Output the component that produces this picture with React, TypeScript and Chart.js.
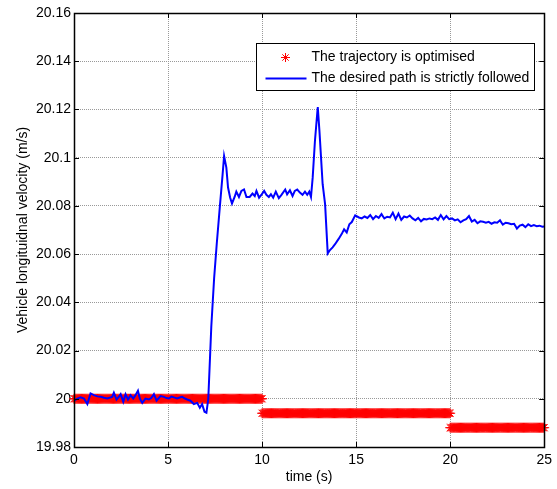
import { useEffect, useRef } from 'react';
import { Chart, registerables } from 'chart.js';

Chart.register(...registerables);

const FONT = 'Arial, "Liberation Sans", Helvetica, sans-serif';

// Axis ticks
const xTicks = [0, 5, 10, 15, 20, 25];
const yTicks = [19.98, 20.0, 20.02, 20.04, 20.06, 20.08, 20.1, 20.12, 20.14, 20.16];

// Optimised trajectory: piecewise-constant speed, sampled every 0.05 s
const optimisedSegmentStart = [0, 10, 20];
const optimisedSegmentEnd = [10, 20, 25];
const optimisedSpeed = [20.0, 19.994, 19.988];
const optimisedSampleStep = 0.05;

// Strict path following: measured longitudinal speed
const pathTime = [
  0, 0.18, 0.35, 0.53, 0.71, 0.88, 1.06, 1.24, 1.42, 1.6, 1.77, 2.03, 2.12, 2.26, 2.36, 2.48,
  2.62, 2.74, 2.87, 3.01, 3.15, 3.27, 3.4, 3.5, 3.63, 3.8, 3.98, 4.12, 4.25, 4.39, 4.6, 4.78,
  4.92, 5.04, 5.18, 5.31, 5.48, 5.62, 5.75, 5.9, 6.02, 6.19, 6.37, 6.55, 6.69, 6.81, 6.94, 7.04,
  7.14, 7.3, 7.45, 7.59, 7.75, 7.9, 7.98, 8.1, 8.19, 8.3, 8.4, 8.54, 8.63, 8.77, 8.9, 9.04,
  9.17, 9.34, 9.49, 9.61, 9.7, 9.84, 9.98, 10.11, 10.23, 10.36, 10.47, 10.59, 10.73, 10.89, 11.03, 11.23,
  11.33, 11.48, 11.62, 11.74, 11.87, 12.01, 12.15, 12.28, 12.4, 12.51, 12.6, 12.69, 12.81, 12.96, 13.05, 13.22,
  13.35, 13.49, 13.61, 13.75, 13.88, 14.06, 14.23, 14.36, 14.5, 14.64, 14.77, 14.95,
  15.15, 15.3, 15.45, 15.6, 15.75, 15.9, 16.05, 16.2, 16.35, 16.5, 16.65, 16.8, 16.95, 17.1, 17.25, 17.4,
  17.55, 17.7, 17.85, 18.0, 18.15, 18.3, 18.45, 18.6, 18.75, 18.9, 19.05, 19.2, 19.35, 19.5, 19.65, 19.8,
  19.95, 20.1, 20.25, 20.4, 20.55, 20.7, 20.85, 21.0, 21.15, 21.3, 21.45, 21.6, 21.75, 21.9, 22.05, 22.2,
  22.35, 22.5, 22.65, 22.8, 22.95, 23.1, 23.25, 23.4, 23.55, 23.7, 23.85, 24.0, 24.15, 24.3, 24.45, 24.6,
  24.75, 24.9, 25.0,
];
const pathSpeed = [
  19.9992, 20.0001, 20.0006, 20.0001, 19.9978, 20.0022, 20.0015, 20.001, 20.0008, 20.0004, 20.0001, 20.0008, 20.0025, 19.9997, 20.0006, 20.0019,
  19.9988, 20.0019, 19.9997, 20.0015, 20.0001, 20.0015, 20.0033, 20.0001, 19.9983, 20.0001, 19.9997, 20.0004, 20.0019, 19.9992, 20.0011, 20.0008,
  20.0003, 20.0001, 20.0009, 20.0006, 20.0001, 20.0005, 20.0008, 20.0001, 19.9997, 19.9992, 19.9978, 19.9983, 19.9963, 19.9978, 19.9946, 19.9942,
  20.0, 20.03, 20.05, 20.0643, 20.0793, 20.093, 20.1007, 20.0959, 20.0876, 20.0835, 20.081, 20.0837, 20.0859, 20.0837, 20.0862, 20.0868,
  20.0837, 20.0837, 20.0851, 20.0841, 20.0862, 20.0834, 20.0848, 20.0862, 20.0846, 20.0837, 20.0848, 20.0834, 20.0859, 20.0832, 20.0846, 20.0868,
  20.0848, 20.0865, 20.0841, 20.0862, 20.0868, 20.0855, 20.0846, 20.0859, 20.0846, 20.0859, 20.0837, 20.0917, 20.1069, 20.121, 20.111, 20.089,
  20.0807, 20.0603, 20.0617, 20.0628, 20.0641, 20.0662, 20.0683, 20.0703, 20.069, 20.0724, 20.0733, 20.0761,
  20.0752, 20.0748, 20.0756, 20.075, 20.0762, 20.0745, 20.0758, 20.075, 20.0766, 20.0748, 20.0755, 20.0752, 20.0772, 20.0745, 20.0768, 20.0742,
  20.0756, 20.0752, 20.076, 20.0748, 20.074, 20.075, 20.0736, 20.0746, 20.0744, 20.0748, 20.0745, 20.0752, 20.0742, 20.0762, 20.0744, 20.0758,
  20.0745, 20.0748, 20.074, 20.0744, 20.0732, 20.074, 20.0745, 20.0758, 20.0735, 20.0742, 20.0728, 20.0736, 20.0734, 20.073, 20.0734, 20.0726,
  20.0732, 20.073, 20.074, 20.0722, 20.073, 20.0728, 20.0724, 20.0726, 20.0706, 20.0718, 20.0722, 20.0712, 20.0724, 20.0716, 20.072, 20.0716,
  20.0718, 20.0714, 20.0715,
];

const optimisedLabel = 'The trajectory is optimised';
const pathLabel = 'The desired path is strictly followed';
const xTitle = 'time (s)';
const yTitle = 'Vehicle longituidnal velocity (m/s)';

function optimisedPoints() {
  const pts: { x: number; y: number }[] = [];
  optimisedSpeed.forEach((v, i) => {
    const start = optimisedSegmentStart[i];
    const n = Math.round((optimisedSegmentEnd[i] - start) / optimisedSampleStep);
    for (let k = 0; k <= n; k++) pts.push({ x: +(start + k * optimisedSampleStep).toFixed(3), y: v });
  });
  return pts;
}

function drawStar(ctx: CanvasRenderingContext2D, x: number, y: number, r: number) {
  const d = r * Math.SQRT1_2;
  ctx.beginPath();
  ctx.moveTo(x - r, y); ctx.lineTo(x + r, y);
  ctx.moveTo(x, y - r); ctx.lineTo(x, y + r);
  ctx.moveTo(x - d, y - d); ctx.lineTo(x + d, y + d);
  ctx.moveTo(x - d, y + d); ctx.lineTo(x + d, y - d);
  ctx.stroke();
}

// Box, inward tick marks and the legend inside the axes
const axesDecor = {
  id: 'axesDecor',
  afterDraw(chart: any) {
    const { ctx, chartArea: a, scales } = chart;
    const tick = 5;
    ctx.save();
    ctx.strokeStyle = '#000';
    ctx.lineWidth = 1;
    ctx.beginPath();
    for (const t of xTicks) {
      const px = Math.round(scales.x.getPixelForValue(t)) + 0.5;
      ctx.moveTo(px, a.bottom); ctx.lineTo(px, a.bottom - tick);
      ctx.moveTo(px, a.top); ctx.lineTo(px, a.top + tick);
    }
    for (const t of yTicks) {
      const py = Math.round(scales.y.getPixelForValue(t)) + 0.5;
      ctx.moveTo(a.left, py); ctx.lineTo(a.left + tick, py);
      ctx.moveTo(a.right, py); ctx.lineTo(a.right - tick, py);
    }
    ctx.stroke();
    ctx.lineWidth = 1.5;
    ctx.strokeRect(Math.round(a.left) + 0.5, Math.round(a.top) + 0.5, Math.round(a.right - a.left), Math.round(a.bottom - a.top));

    // legend
    const w = 278, h = 47;
    const lx = Math.round(a.right - 10 - w) + 0.5;
    const ly = Math.round(a.top + 30) + 0.5;
    ctx.fillStyle = '#fff';
    ctx.fillRect(lx, ly, w, h);
    ctx.lineWidth = 1;
    ctx.strokeStyle = '#000';
    ctx.strokeRect(lx, ly, w, h);
    const row1 = ly + 14, row2 = ly + 35;
    ctx.strokeStyle = '#ff0000';
    ctx.lineWidth = 1;
    drawStar(ctx, lx + 29, row1, 4.5);
    ctx.strokeStyle = '#0000ff';
    ctx.lineWidth = 2;
    ctx.beginPath();
    ctx.moveTo(lx + 9, row2); ctx.lineTo(lx + 50, row2);
    ctx.stroke();
    ctx.fillStyle = '#000';
    ctx.font = `14px ${FONT}`;
    ctx.textBaseline = 'middle';
    ctx.textAlign = 'left';
    ctx.fillText(optimisedLabel, lx + 55, row1);
    ctx.fillText(pathLabel, lx + 55, row2);
    ctx.restore();
  },
};

export default function App() {
  const canvasRef = useRef<HTMLCanvasElement | null>(null);

  useEffect(() => {
    const canvas = canvasRef.current;
    if (!canvas) return;
    const chart = new Chart(canvas, {
      type: 'line',
      data: {
        datasets: [
          {
            label: optimisedLabel,
            data: optimisedPoints(),
            showLine: false,
            pointStyle: 'star',
            pointRadius: 5,
            pointBorderWidth: 1,
            borderColor: '#ff0000',
            backgroundColor: '#ff0000',
            clip: 8,
            order: 1,
          },
          {
            label: pathLabel,
            data: pathTime.map((t, i) => ({ x: t, y: pathSpeed[i] })),
            borderColor: '#0000ff',
            backgroundColor: '#0000ff',
            borderWidth: 2,
            pointRadius: 0,
            tension: 0,
            order: 0,
          },
        ],
      },
      options: {
        responsive: false,
        animation: false,
        devicePixelRatio: 1,
        layout: { padding: { left: 0, right: 12, top: 13, bottom: 0 } },
        plugins: { legend: { display: false }, tooltip: { enabled: false } },
        scales: {
          x: {
            type: 'linear',
            min: 0,
            max: 25,
            afterBuildTicks: (s: any) => { s.ticks = xTicks.map((v) => ({ value: v })); },
            afterFit: (s: any) => { s.height = 42; },
            ticks: { color: '#000', font: { family: FONT, size: 14 }, padding: 5, maxRotation: 0, autoSkip: false },
            grid: { color: '#999999', drawTicks: false },
            border: { display: false, dash: [1, 1] },
            title: { display: true, text: xTitle, color: '#000', font: { family: FONT, size: 14 }, padding: { top: 0, bottom: 3 } },
          },
          y: {
            type: 'linear',
            min: 19.98,
            max: 20.16,
            afterBuildTicks: (s: any) => { s.ticks = yTicks.map((v) => ({ value: v })); },
            afterFit: (s: any) => { s.width = 74; },
            ticks: {
              color: '#000',
              font: { family: FONT, size: 14 },
              padding: 3,
              autoSkip: false,
              callback: (v: any) => String(Number(Number(v).toFixed(2))),
            },
            grid: { color: '#999999', drawTicks: false },
            border: { display: false, dash: [1, 1] },
            title: { display: true, text: yTitle, color: '#000', font: { family: FONT, size: 14 }, padding: { top: 15, bottom: 0 } },
          },
        },
      },
      plugins: [axesDecor],
    } as any);
    return () => chart.destroy();
  }, []);

  return (
    <div style={{ position: 'fixed', left: 0, top: 0, width: 557, height: 489, background: '#fff' }}>
      <canvas ref={canvasRef} width={557} height={489} style={{ display: 'block', width: 557, height: 489 }} />
    </div>
  );
}
